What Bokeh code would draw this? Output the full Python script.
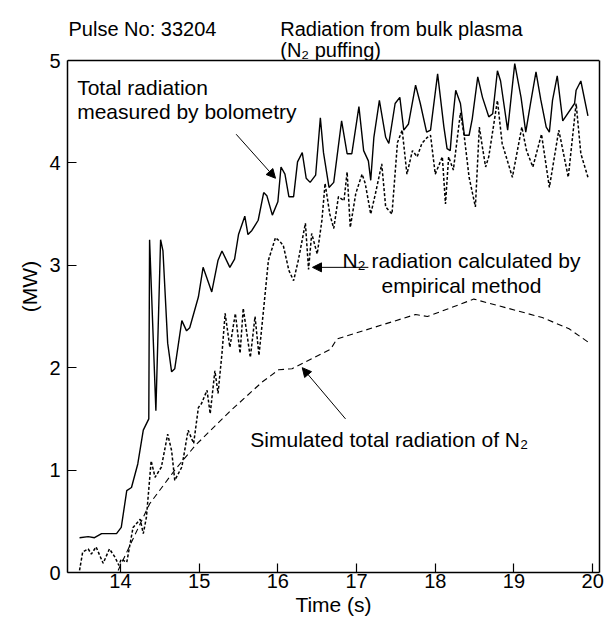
from bokeh.plotting import figure
from bokeh.models import (Range1d, Label, Arrow, NormalHead, FixedTicker,
                          LinearAxis, Span)
from bokeh.embed import file_html
from bokeh.resources import INLINE

# Total radiation measured by bolometry (MW)
t_total = [13.48, 13.59, 13.67, 13.76, 13.95, 14.01, 14.08, 14.14, 14.22, 14.29,
           14.36, 14.37, 14.45, 14.51, 14.54, 14.60, 14.65, 14.69, 14.78, 14.84,
           14.88, 14.99, 15.05, 15.16, 15.24, 15.29, 15.39, 15.45, 15.50, 15.58,
           15.62, 15.67, 15.75, 15.82, 15.86, 15.93, 16.00, 16.04, 16.09, 16.14,
           16.20, 16.25, 16.31, 16.36, 16.41, 16.48, 16.54, 16.58, 16.65, 16.71,
           16.81, 16.88, 16.94, 17.03, 17.09, 17.15, 17.18, 17.22, 17.29, 17.37,
           17.41, 17.49, 17.55, 17.60, 17.66, 17.75, 17.81, 17.89, 17.94, 18.03,
           18.11, 18.15, 18.19, 18.22, 18.26, 18.32, 18.37, 18.43, 18.47, 18.54,
           18.60, 18.68, 18.73, 18.79, 18.83, 18.92, 19.01, 19.09, 19.15, 19.21,
           19.28, 19.34, 19.41, 19.45, 19.49, 19.55, 19.62, 19.77, 19.79, 19.85,
           19.94]
p_total = [0.34, 0.35, 0.34, 0.38, 0.38, 0.44, 0.80, 0.83, 1.06, 1.39,
           1.50, 3.25, 1.58, 3.25, 3.14, 2.24, 1.96, 1.99, 2.46, 2.36,
           2.39, 2.69, 2.98, 2.74, 3.05, 3.14, 2.98, 3.06, 3.30, 3.48,
           3.30, 3.34, 3.44, 3.71, 3.68, 3.49, 3.62, 3.96, 3.89, 3.67,
           3.67, 4.01, 4.10, 3.85, 3.81, 3.88, 4.44, 4.10, 3.76, 3.81,
           4.41, 4.09, 4.09, 4.55, 4.12, 4.02, 3.83, 4.25, 4.61, 4.25,
           4.19, 4.58, 4.64, 4.32, 4.38, 4.76, 4.58, 4.30, 4.32, 4.87,
           4.35, 4.14, 4.12, 4.41, 4.71, 4.58, 4.27, 4.27, 4.43, 4.84,
           4.64, 4.45, 4.48, 4.90, 4.80, 4.32, 4.97, 4.64, 4.30, 4.58,
           4.89, 4.62, 4.35, 4.30, 4.61, 4.85, 4.41, 4.58, 4.71, 4.80,
           4.46]

# N2 radiation calculated by the empirical method (MW)
t_emp = [13.48, 13.52, 13.59, 13.63, 13.69, 13.78, 13.86, 13.93, 13.98, 14.01,
         14.08, 14.16, 14.25, 14.29, 14.33, 14.39, 14.44, 14.52, 14.60, 14.65,
         14.69, 14.78, 14.86, 14.93, 14.99, 15.03, 15.10, 15.14, 15.20, 15.24,
         15.29, 15.33, 15.39, 15.46, 15.52, 15.56, 15.65, 15.71, 15.76, 15.82,
         15.88, 15.97, 16.03, 16.07, 16.14, 16.20, 16.26, 16.35, 16.39, 16.43,
         16.50, 16.56, 16.60, 16.66, 16.71, 16.77, 16.84, 16.88, 16.92, 16.99,
         17.07, 17.11, 17.18, 17.24, 17.32, 17.37, 17.45, 17.52, 17.58, 17.64,
         17.71, 17.77, 17.83, 17.90, 17.94, 18.00, 18.09, 18.13, 18.17, 18.23,
         18.32, 18.37, 18.43, 18.51, 18.56, 18.60, 18.64, 18.68, 18.79, 18.85,
         18.98, 19.10, 19.16, 19.24, 19.35, 19.45, 19.57, 19.69, 19.79, 19.85,
         19.94]
p_emp = [0.02, 0.20, 0.23, 0.18, 0.25, 0.09, 0.23, 0.15, 0.07, 0.13,
         0.10, 0.44, 0.52, 0.38, 0.54, 1.09, 0.93, 1.03, 1.35, 1.19,
         0.90, 1.03, 1.39, 1.26, 1.61, 1.65, 1.78, 1.55, 1.97, 1.75,
         2.14, 2.53, 2.20, 2.53, 2.14, 2.58, 2.10, 2.50, 2.12, 2.58,
         3.05, 3.27, 3.23, 3.19, 2.95, 2.85, 3.05, 3.41, 2.96, 3.31,
         3.11, 3.44, 3.80, 3.50, 3.36, 3.67, 3.63, 3.91, 3.37, 3.70,
         3.89, 3.80, 3.50, 3.70, 3.99, 3.57, 3.50, 4.20, 4.32, 3.89,
         4.12, 4.06, 4.19, 4.25, 4.27, 3.89, 4.06, 3.60, 4.06, 3.93,
         4.49, 4.25, 3.86, 3.57, 4.35, 4.15, 3.96, 4.06, 4.61, 4.19,
         3.86, 4.35, 4.12, 3.96, 4.28, 3.76, 4.32, 3.86, 4.58, 4.09,
         3.86]

# Simulated total radiation of N2 (MW)
t_sim = [13.97, 14.37, 14.69, 14.95, 15.40, 15.80, 16.01, 16.18,
         16.67, 16.75, 17.75, 17.90, 18.49, 19.36, 19.70, 19.98]
p_sim = [0.02, 0.67, 1.00, 1.24, 1.58, 1.86, 1.98, 1.99,
         2.18, 2.28, 2.52, 2.50, 2.67, 2.49, 2.38, 2.23]

x_ticks = [14, 15, 16, 17, 18, 19, 20]
y_ticks = [0, 1, 2, 3, 4, 5]
Y_TOP = 5  # top of the data box

FONT = "Liberation Sans"
FS = "21px"
TICK_FS = "20px"
HEAD_FS = "20px"

# the frame reaches the top of the canvas so the headings above the data box
# can be drawn inside it; the box itself is built from axes and a span
p = figure(width=605, height=623,
           x_range=Range1d(13.327, 20.087), y_range=Range1d(0, 5.586),
           output_backend="svg", toolbar_location=None,
           min_border_left=67, min_border_right=6,
           min_border_top=0, min_border_bottom=51)
p.background_fill_color = "white"
p.border_fill_color = "white"
p.grid.visible = False
p.outline_line_color = None

right = LinearAxis(bounds=(0, Y_TOP), ticker=FixedTicker(ticks=[]),
                   major_tick_in=0, major_tick_out=0,
                   minor_tick_line_color=None, axis_line_width=1.5,
                   axis_line_color="black")
p.add_layout(right, "right")
p.add_layout(Span(location=Y_TOP, dimension="width", line_color="black",
                  line_width=1.5))

for ax in (p.xaxis[0], p.yaxis[0]):
    ax.major_tick_in = 9
    ax.major_tick_out = 0
    ax.minor_tick_line_color = None
    ax.axis_line_width = 1.5
    ax.major_tick_line_width = 1.2
    ax.axis_line_color = "black"
    ax.major_tick_line_color = "black"
    ax.major_label_text_font = FONT
    ax.major_label_text_font_size = TICK_FS
    ax.major_label_text_color = "black"
    ax.axis_label_text_font = FONT
    ax.axis_label_text_font_size = FS
    ax.axis_label_text_font_style = "normal"
    ax.axis_label_text_color = "black"

xax = p.xaxis[0]
yax = p.yaxis[0]
xax.ticker = FixedTicker(ticks=x_ticks)
yax.ticker = FixedTicker(ticks=y_ticks)
yax.bounds = (0, Y_TOP)
xax.axis_label = "Time (s)"
yax.axis_label = "(MW)"
xax.major_label_standoff = 1
xax.axis_label_standoff = 2
yax.major_label_standoff = 7
yax.axis_label_standoff = 5

p.line(t_sim, p_sim, line_color="black", line_width=1.1, line_dash="6 4")
p.line(t_emp, p_emp, line_color="black", line_width=1.5, line_dash="3 2")
p.line(t_total, p_total, line_color="black", line_width=1.4)


def note(x, y, text, align="left", size=FS):
    p.add_layout(Label(x=x, y=y, text=text, text_font=FONT, text_font_size=size,
                       text_color="black", text_align=align,
                       text_baseline="alphabetic"))


def pointer(x0, y0, x1, y1):
    p.add_layout(Arrow(end=NormalHead(size=9, fill_color="black",
                                      line_color="black", line_width=1),
                       x_start=x0, y_start=y0, x_end=x1, y_end=y1,
                       line_color="black", line_width=1))


# headings
note(13.34, 5.303, "Pulse No: 33204", size=HEAD_FS)
note(16.03, 5.303, "Radiation from bulk plasma", size=HEAD_FS)
note(16.03, 5.098, "(N₂ puffing)", size=HEAD_FS)

# curve annotations
note(13.45, 4.74, "Total radiation")
note(13.45, 4.505, "measured by bolometry")
pointer(15.47, 4.28, 15.97, 3.85)

note(18.333, 3.047, "N₂ radiation calculated by", align="center")
note(18.333, 2.803, "empirical method", align="center")
pointer(17.15, 2.98, 16.44, 2.98)

note(15.65, 1.30, "Simulated total radiation of N₂")
pointer(16.86, 1.50, 16.31, 2.0)

open("out.html", "w").write(file_html(p, INLINE))
